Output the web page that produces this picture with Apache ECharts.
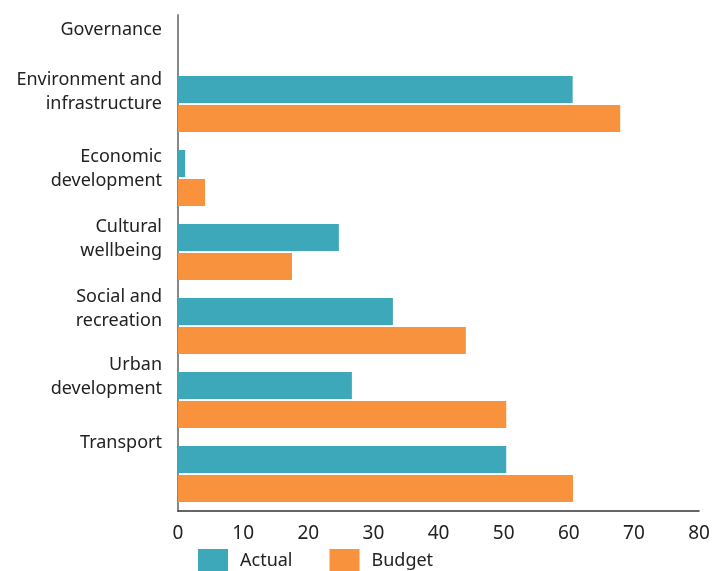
<!DOCTYPE html>
<html>
<head>
<meta charset="utf-8">
<script src="https://cdn.jsdelivr.net/npm/echarts@6/dist/echarts.min.js"></script>
<style>
html,body{margin:0;padding:0;background:#fff;}
#chart{width:715px;height:571px;}
</style>
</head>
<body>
<div id="chart"></div>
<script>
const categories = ['Governance', 'Environment and\ninfrastructure', 'Economic\ndevelopment', 'Cultural\nwellbeing', 'Social and\nrecreation', 'Urban\ndevelopment', 'Transport'];
const actualValues = [0, 60.6, 1.1, 24.7, 33.0, 26.7, 50.4];
const budgetValues = [0, 67.9, 4.15, 17.5, 44.2, 50.4, 60.65];
const xTicks = [0, 10, 20, 30, 40, 50, 60, 70, 80];
const seriesNames = ['Actual', 'Budget'];

// vertical label shifts (px, upward) per category row — layout only
const labelShift = [0, 12.5, 9, 13, 17, 23, 31.5];

const FONT = 'Noto Sans';
const rich = { t: { fontSize: 18, lineHeight: 24, color: '#222', fontFamily: FONT, align: 'right' } };
labelShift.forEach((d, i) => { rich['s' + i] = { fontSize: 1, lineHeight: Math.max(1, 2 * d), align: 'right' }; });

const chart = echarts.init(document.getElementById('chart'));
chart.setOption({
  animation: false,
  textStyle: { fontFamily: FONT },
  legend: {
    data: seriesNames,
    top: 549,
    left: 198,
    padding: 0,
    itemWidth: 30,
    itemHeight: 24,
    itemGap: 37,
    icon: 'rect',
    textStyle: { fontSize: 18, color: '#222', fontFamily: FONT, padding: [0, 0, 0, 7] }
  },
  grid: [
    { left: 178, right: 16, top: -7, bottom: 60, containLabel: false, outerBoundsMode: 'none' },
    { left: 178, right: 16, top: 15, bottom: 60, containLabel: false, outerBoundsMode: 'none' }
  ],
  xAxis: [
    {
      type: 'value', gridIndex: 0, min: xTicks[0], max: xTicks[xTicks.length - 1], interval: 10,
      axisLine: { show: true, lineStyle: { color: '#333', width: 1.5 } },
      axisTick: { show: false },
      splitLine: { show: false },
      axisLabel: { fontSize: 19, color: '#222', margin: 13, fontFamily: FONT }
    },
    { type: 'value', gridIndex: 1, show: false }
  ],
  yAxis: [
    {
      type: 'category', gridIndex: 0, inverse: true,
      data: categories,
      axisLine: { show: false },
      axisTick: { show: false },
      axisLabel: {
        interval: 0, margin: 16, align: 'right',
        formatter: (value, index) => {
          const lines = value.split('\n').map(l => '{t|' + l + '}');
          if (labelShift[index] > 0) lines.push('{s' + index + '| }');
          return lines.join('\n');
        },
        rich: rich
      }
    },
    {
      type: 'value', gridIndex: 1,
      axisLine: { show: true, lineStyle: { color: '#888', width: 2 } },
      axisTick: { show: false }, axisLabel: { show: false }, splitLine: { show: false }
    }
  ],
  series: [
    {
      name: seriesNames[0], type: 'bar', xAxisIndex: 0, yAxisIndex: 0,
      data: actualValues, barWidth: 27, barGap: '7.4%',
      itemStyle: { color: '#3EA8BB' }
    },
    {
      name: seriesNames[1], type: 'bar', xAxisIndex: 0, yAxisIndex: 0,
      data: budgetValues, barWidth: 27, barGap: '7.4%',
      itemStyle: { color: '#F8923D' }
    }
  ]
});
</script>
</body>
</html>
